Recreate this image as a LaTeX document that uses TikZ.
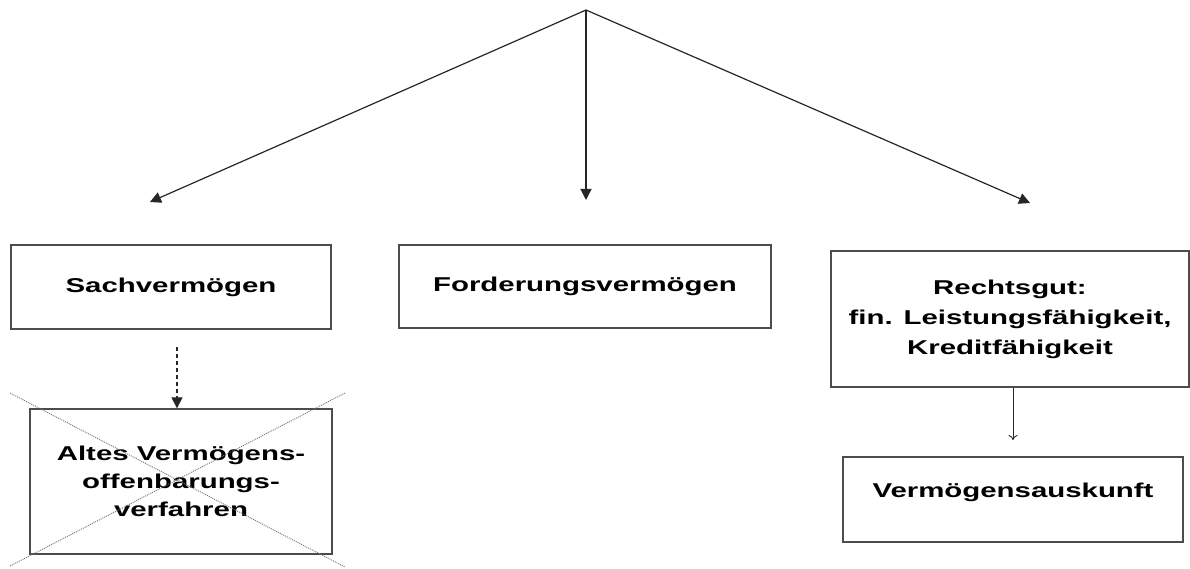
\documentclass[tikz,border=0pt]{standalone}
\usepackage{fontspec}
\setmainfont{Liberation Sans}[FakeStretch=1.47]
\usetikzlibrary{arrows.meta}
\tikzset{
  box/.style={draw=black!70, line width=1.3pt, inner sep=0pt, align=center,
    font=\fontsize{20}{28}\selectfont\bfseries},
  conn/.style={draw=black!85, line width=1.2pt, -{Triangle[length=11pt,width=11pt]}},
  dconn/.style={draw=black!85, line width=1.2pt, dash pattern=on 4pt off 3pt, -{Triangle[length=11pt,width=11pt]}},
  thinconn/.style={draw=black!85, line width=0.9pt, -{To[length=5pt,width=9pt]}},
  crossline/.style={draw=black!55, line width=0.9pt, dash pattern=on 1pt off 1pt}
}
\begin{document}
\begin{tikzpicture}[x=1pt,y=-1pt]
\useasboundingbox (0,0) rectangle (1190,569);
\coordinate (top) at (586,10);
\coordinate (tl) at (150,202);
\coordinate (tm) at (586,200);
\coordinate (tr) at (1030,203);
\node[box, minimum width=320pt, minimum height=84pt] (sach) at (171,287) {Sachvermögen};
\node[box, minimum width=372pt, minimum height=83pt] (ford) at (585,286.5) {Forderungsvermögen};
\node[box, minimum width=358pt, minimum height=136pt, font=\fontsize{20}{30}\selectfont\bfseries] (recht) at (1010,319) {Rechtsgut:\\fin. Leistungsfähigkeit,\\Kreditfähigkeit};
\node[box, minimum width=340pt, minimum height=85pt, text height=15pt, text depth=20pt] (verm) at (1013,499.5) {Vermögensauskunft};
\node[box, minimum width=302pt, minimum height=145pt] (altes) at (181,481.5) {Altes Vermögens-\\offenbarungs-\\verfahren};
\draw[conn] (top) -- (tl);
\draw[conn] (top) -- (tm);
\draw[conn] (top) -- (tr);
\coordinate (ds) at (177,347);
\draw[dconn] (ds) -- (ds |- altes.north);
\coordinate (vt) at (1013,440);
\draw[thinconn] (vt |- recht.south) -- (vt);
\coordinate (c1) at (10,393);
\coordinate (c2) at (345,567);
\coordinate (c3) at (345,393);
\coordinate (c4) at (10,566);
\draw[crossline] (c1) -- (c2);
\draw[crossline] (c3) -- (c4);
\end{tikzpicture}
\end{document}
